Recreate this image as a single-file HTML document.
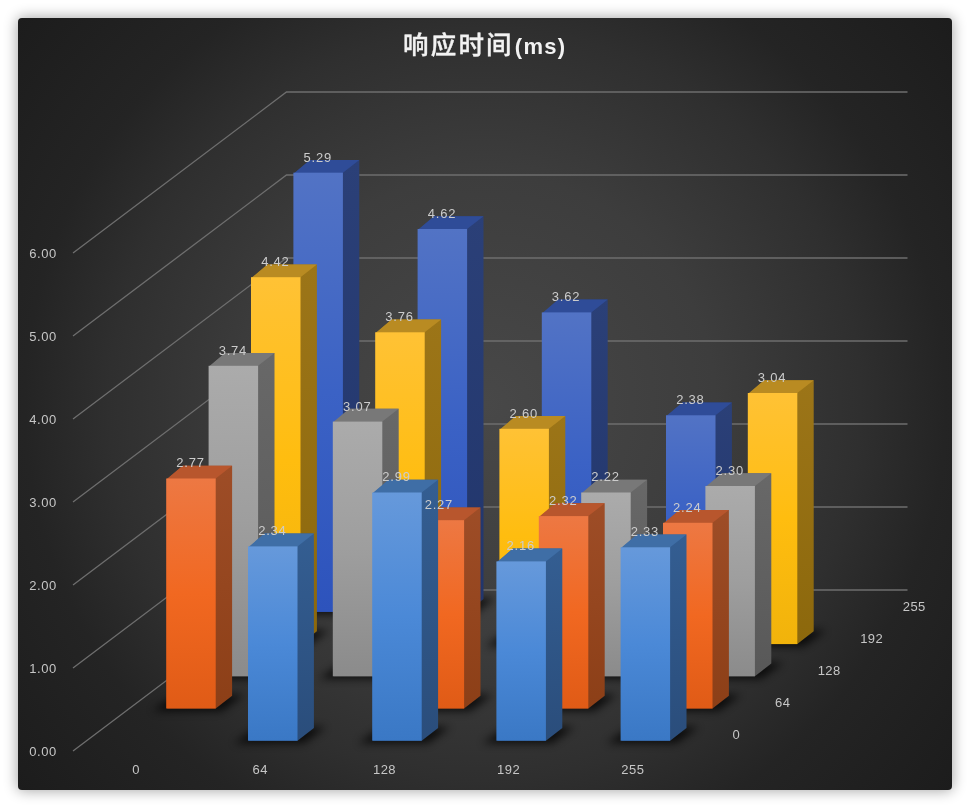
<!DOCTYPE html>
<html lang="zh"><head><meta charset="utf-8"><title>响应时间(ms)</title>
<style>
html,body{margin:0;padding:0;background:#fff;}
body{width:970px;height:808px;position:relative;overflow:hidden;font-family:"Liberation Sans","Noto Sans CJK SC",sans-serif;}
svg text{letter-spacing:0.8px;font-family:"Liberation Sans","Noto Sans CJK SC",sans-serif;font-size:13px;fill:#cccccc;text-anchor:middle;}
.t{position:absolute;left:403px;top:28px;color:#f2f2f2;line-height:34px;white-space:nowrap;}
.t .c{font-family:"Liberation Sans","Noto Sans CJK SC",sans-serif;font-weight:500;font-size:25.5px;letter-spacing:2.2px;-webkit-text-stroke:0.35px #f2f2f2;}
.t .e{font-family:"Liberation Sans","Noto Sans CJK SC",sans-serif;font-weight:bold;font-size:22px;letter-spacing:1.3px;margin-left:1px;}
.l.d{transform:translate(0,-50%);letter-spacing:0.4px;}
.l{position:absolute;color:#c6c6c6;letter-spacing:0.5px;font-size:13px;line-height:16px;white-space:nowrap;transform:translate(-50%,-50%);}
</style></head><body>
<svg width="970" height="808" viewBox="0 0 970 808" style="position:absolute;left:0;top:0">
<defs>
<radialGradient id="bg" gradientUnits="userSpaceOnUse" cx="485" cy="404" r="606"><stop offset="0" stop-color="#484848"/><stop offset="0.38" stop-color="#3d3d3d"/><stop offset="0.62" stop-color="#2f2f2f"/><stop offset="0.76" stop-color="#242424"/><stop offset="1" stop-color="#1c1c1c"/></radialGradient>
<linearGradient id="f0" x1="0" y1="0" x2="0" y2="1"><stop offset="0" stop-color="#6699db"/><stop offset="0.5" stop-color="#4b89d7"/><stop offset="1" stop-color="#3a78c5"/></linearGradient>
<linearGradient id="s0" x1="0" y1="0" x2="0" y2="1"><stop offset="0" stop-color="#345e92"/><stop offset="1" stop-color="#2a4d7b"/></linearGradient>
<linearGradient id="f1" x1="0" y1="0" x2="0" y2="1"><stop offset="0" stop-color="#ed7843"/><stop offset="0.5" stop-color="#f16821"/><stop offset="1" stop-color="#e05b16"/></linearGradient>
<linearGradient id="s1" x1="0" y1="0" x2="0" y2="1"><stop offset="0" stop-color="#9e4d27"/><stop offset="1" stop-color="#8c3f17"/></linearGradient>
<linearGradient id="f2" x1="0" y1="0" x2="0" y2="1"><stop offset="0" stop-color="#ababab"/><stop offset="0.5" stop-color="#9e9e9e"/><stop offset="1" stop-color="#8b8b8b"/></linearGradient>
<linearGradient id="s2" x1="0" y1="0" x2="0" y2="1"><stop offset="0" stop-color="#686868"/><stop offset="1" stop-color="#585858"/></linearGradient>
<linearGradient id="f3" x1="0" y1="0" x2="0" y2="1"><stop offset="0" stop-color="#ffc235"/><stop offset="0.5" stop-color="#ffbd0f"/><stop offset="1" stop-color="#f1b30b"/></linearGradient>
<linearGradient id="s3" x1="0" y1="0" x2="0" y2="1"><stop offset="0" stop-color="#9c7518"/><stop offset="1" stop-color="#8c680c"/></linearGradient>
<linearGradient id="f4" x1="0" y1="0" x2="0" y2="1"><stop offset="0" stop-color="#5273c5"/><stop offset="0.5" stop-color="#3b62c5"/><stop offset="1" stop-color="#2d53bc"/></linearGradient>
<linearGradient id="s4" x1="0" y1="0" x2="0" y2="1"><stop offset="0" stop-color="#2b4078"/><stop offset="1" stop-color="#21356b"/></linearGradient>
<filter id="sh" x="-50%" y="-50%" width="200%" height="200%"><feGaussianBlur stdDeviation="4"/></filter>
<filter id="psh" x="-10%" y="-10%" width="120%" height="120%"><feGaussianBlur stdDeviation="7"/></filter>
</defs>
<rect x="17" y="17" width="936" height="774" rx="6" fill="#000" opacity="0.34" filter="url(#psh)"/>
<rect x="18" y="18" width="934" height="772" rx="4" fill="url(#bg)"/>
<path d="M73.0 751.0L286.5 590.0L907.5 590.0M73.0 668.0L286.5 507.0L907.5 507.0M73.0 585.0L286.5 424.0L907.5 424.0M73.0 502.0L286.5 341.0L907.5 341.0M73.0 419.0L286.5 258.0L907.5 258.0M73.0 336.0L286.5 175.0L907.5 175.0M73.0 253.0L286.5 92.0L907.5 92.0" fill="none" stroke="#6e6e6e" stroke-width="1.3"/>
<path d="M279.4 614.4L348.9 614.4L371.3 598.1L303.8 598.1ZM403.6 614.4L473.1 614.4L495.5 598.1L428.0 598.1ZM527.8 614.4L597.3 614.4L619.7 598.1L552.2 598.1ZM652.0 614.4L721.5 614.4L743.9 598.1L676.4 598.1ZM237.0 646.6L306.5 646.6L328.9 630.3L261.4 630.3ZM361.2 646.6L430.7 646.6L453.1 630.3L385.6 630.3ZM485.4 646.6L554.9 646.6L577.3 630.3L509.8 630.3ZM733.8 646.6L803.3 646.6L825.7 630.3L758.2 630.3ZM194.6 678.8L264.1 678.8L286.5 662.5L219.0 662.5ZM318.8 678.8L388.3 678.8L410.7 662.5L343.2 662.5ZM567.2 678.8L636.7 678.8L659.1 662.5L591.6 662.5ZM691.4 678.8L760.9 678.8L783.3 662.5L715.8 662.5ZM152.2 711.0L221.7 711.0L244.1 694.7L176.6 694.7ZM400.6 711.0L470.1 711.0L492.5 694.7L425.0 694.7ZM524.8 711.0L594.3 711.0L616.7 694.7L549.2 694.7ZM649.0 711.0L718.5 711.0L740.9 694.7L673.4 694.7ZM234.0 743.2L303.5 743.2L325.9 726.9L258.4 726.9ZM358.2 743.2L427.7 743.2L450.1 726.9L382.6 726.9ZM482.4 743.2L551.9 743.2L574.3 726.9L506.8 726.9ZM606.6 743.2L676.1 743.2L698.5 726.9L631.0 726.9Z" fill="#000" opacity="0.75" filter="url(#sh)"/>
<path d="M294.4 611.9L342.9 611.9L359.3 599.1L359.3 159.9L309.8 159.9L294.4 173.7Z" fill="url(#s4)"/>
<path d="M293.4 173.7L342.9 173.7L342.9 172.7L359.3 159.9L309.8 159.9Z" fill="#2f4c98"/>
<rect x="293.4" y="172.7" width="49.5" height="439.2" fill="url(#f4)"/>
<path d="M418.6 611.9L467.1 611.9L483.5 599.1L483.5 216.2L434.0 216.2L418.6 230.0Z" fill="url(#s4)"/>
<path d="M417.6 230.0L467.1 230.0L467.1 229.0L483.5 216.2L434.0 216.2Z" fill="#2f4c98"/>
<rect x="417.6" y="229.0" width="49.5" height="382.9" fill="url(#f4)"/>
<path d="M542.8 611.9L591.3 611.9L607.7 599.1L607.7 299.6L558.2 299.6L542.8 313.4Z" fill="url(#s4)"/>
<path d="M541.8 313.4L591.3 313.4L591.3 312.4L607.7 299.6L558.2 299.6Z" fill="#2f4c98"/>
<rect x="541.8" y="312.4" width="49.5" height="299.5" fill="url(#f4)"/>
<path d="M667.0 611.9L715.5 611.9L731.9 599.1L731.9 402.5L682.4 402.5L667.0 416.3Z" fill="url(#s4)"/>
<path d="M666.0 416.3L715.5 416.3L715.5 415.3L731.9 402.5L682.4 402.5Z" fill="#2f4c98"/>
<rect x="666.0" y="415.3" width="49.5" height="196.6" fill="url(#f4)"/>
<path d="M252.0 644.1L300.5 644.1L316.9 631.3L316.9 264.4L267.4 264.4L252.0 278.2Z" fill="url(#s3)"/>
<path d="M251.0 278.2L300.5 278.2L300.5 277.2L316.9 264.4L267.4 264.4Z" fill="#b98b22"/>
<rect x="251.0" y="277.2" width="49.5" height="366.9" fill="url(#f3)"/>
<path d="M376.2 644.1L424.7 644.1L441.1 631.3L441.1 319.5L391.6 319.5L376.2 333.3Z" fill="url(#s3)"/>
<path d="M375.2 333.3L424.7 333.3L424.7 332.3L441.1 319.5L391.6 319.5Z" fill="#b98b22"/>
<rect x="375.2" y="332.3" width="49.5" height="311.8" fill="url(#f3)"/>
<path d="M500.4 644.1L548.9 644.1L565.3 631.3L565.3 416.0L515.8 416.0L500.4 429.8Z" fill="url(#s3)"/>
<path d="M499.4 429.8L548.9 429.8L548.9 428.8L565.3 416.0L515.8 416.0Z" fill="#b98b22"/>
<rect x="499.4" y="428.8" width="49.5" height="215.3" fill="url(#f3)"/>
<path d="M748.8 644.1L797.3 644.1L813.7 631.3L813.7 380.2L764.2 380.2L748.8 394.0Z" fill="url(#s3)"/>
<path d="M747.8 394.0L797.3 394.0L797.3 393.0L813.7 380.2L764.2 380.2Z" fill="#b98b22"/>
<rect x="747.8" y="393.0" width="49.5" height="251.1" fill="url(#f3)"/>
<path d="M209.6 676.3L258.1 676.3L274.5 663.5L274.5 353.0L225.0 353.0L209.6 366.8Z" fill="url(#s2)"/>
<path d="M208.6 366.8L258.1 366.8L258.1 365.8L274.5 353.0L225.0 353.0Z" fill="#787878"/>
<rect x="208.6" y="365.8" width="49.5" height="310.5" fill="url(#f2)"/>
<path d="M333.8 676.3L382.3 676.3L398.7 663.5L398.7 408.8L349.2 408.8L333.8 422.6Z" fill="url(#s2)"/>
<path d="M332.8 422.6L382.3 422.6L382.3 421.6L398.7 408.8L349.2 408.8Z" fill="#787878"/>
<rect x="332.8" y="421.6" width="49.5" height="254.7" fill="url(#f2)"/>
<path d="M582.2 676.3L630.7 676.3L647.1 663.5L647.1 479.7L597.6 479.7L582.2 493.5Z" fill="url(#s2)"/>
<path d="M581.2 493.5L630.7 493.5L630.7 492.5L647.1 479.7L597.6 479.7Z" fill="#787878"/>
<rect x="581.2" y="492.5" width="49.5" height="183.8" fill="url(#f2)"/>
<path d="M706.4 676.3L754.9 676.3L771.3 663.5L771.3 473.2L721.8 473.2L706.4 487.0Z" fill="url(#s2)"/>
<path d="M705.4 487.0L754.9 487.0L754.9 486.0L771.3 473.2L721.8 473.2Z" fill="#787878"/>
<rect x="705.4" y="486.0" width="49.5" height="190.3" fill="url(#f2)"/>
<path d="M167.2 708.5L215.7 708.5L232.1 695.7L232.1 465.7L182.6 465.7L167.2 479.5Z" fill="url(#s1)"/>
<path d="M166.2 479.5L215.7 479.5L215.7 478.5L232.1 465.7L182.6 465.7Z" fill="#b8562d"/>
<rect x="166.2" y="478.5" width="49.5" height="230.0" fill="url(#f1)"/>
<path d="M415.6 708.5L464.1 708.5L480.5 695.7L480.5 507.4L431.0 507.4L415.6 521.2Z" fill="url(#s1)"/>
<path d="M414.6 521.2L464.1 521.2L464.1 520.2L480.5 507.4L431.0 507.4Z" fill="#b8562d"/>
<rect x="414.6" y="520.2" width="49.5" height="188.3" fill="url(#f1)"/>
<path d="M539.8 708.5L588.3 708.5L604.7 695.7L604.7 503.3L555.2 503.3L539.8 517.1Z" fill="url(#s1)"/>
<path d="M538.8 517.1L588.3 517.1L588.3 516.1L604.7 503.3L555.2 503.3Z" fill="#b8562d"/>
<rect x="538.8" y="516.1" width="49.5" height="192.4" fill="url(#f1)"/>
<path d="M664.0 708.5L712.5 708.5L728.9 695.7L728.9 510.0L679.4 510.0L664.0 523.8Z" fill="url(#s1)"/>
<path d="M663.0 523.8L712.5 523.8L712.5 522.8L728.9 510.0L679.4 510.0Z" fill="#b8562d"/>
<rect x="663.0" y="522.8" width="49.5" height="185.7" fill="url(#f1)"/>
<path d="M249.0 740.7L297.5 740.7L313.9 727.9L313.9 533.6L264.4 533.6L249.0 547.4Z" fill="url(#s0)"/>
<path d="M248.0 547.4L297.5 547.4L297.5 546.4L313.9 533.6L264.4 533.6Z" fill="#3f6ea6"/>
<rect x="248.0" y="546.4" width="49.5" height="194.3" fill="url(#f0)"/>
<path d="M373.2 740.7L421.7 740.7L438.1 727.9L438.1 479.7L388.6 479.7L373.2 493.5Z" fill="url(#s0)"/>
<path d="M372.2 493.5L421.7 493.5L421.7 492.5L438.1 479.7L388.6 479.7Z" fill="#3f6ea6"/>
<rect x="372.2" y="492.5" width="49.5" height="248.2" fill="url(#f0)"/>
<path d="M497.4 740.7L545.9 740.7L562.3 727.9L562.3 548.6L512.8 548.6L497.4 562.4Z" fill="url(#s0)"/>
<path d="M496.4 562.4L545.9 562.4L545.9 561.4L562.3 548.6L512.8 548.6Z" fill="#3f6ea6"/>
<rect x="496.4" y="561.4" width="49.5" height="179.3" fill="url(#f0)"/>
<path d="M621.6 740.7L670.1 740.7L686.5 727.9L686.5 534.5L637.0 534.5L621.6 548.3Z" fill="url(#s0)"/>
<path d="M620.6 548.3L670.1 548.3L670.1 547.3L686.5 534.5L637.0 534.5Z" fill="#3f6ea6"/>
<rect x="620.6" y="547.3" width="49.5" height="193.4" fill="url(#f0)"/>
<text x="317.8" y="161.6">5.29</text><text x="442.0" y="217.9">4.62</text><text x="566.1" y="301.3">3.62</text><text x="690.4" y="404.2">2.38</text><text x="275.4" y="266.1">4.42</text><text x="399.6" y="321.2">3.76</text><text x="523.8" y="417.7">2.60</text><text x="772.1" y="381.9">3.04</text><text x="232.9" y="354.7">3.74</text><text x="357.2" y="410.5">3.07</text><text x="605.6" y="481.4">2.22</text><text x="729.7" y="474.9">2.30</text><text x="190.5" y="467.4">2.77</text><text x="438.9" y="509.1">2.27</text><text x="563.2" y="505.0">2.32</text><text x="687.3" y="511.7">2.24</text><text x="272.4" y="535.3">2.34</text><text x="396.6" y="481.4">2.99</text><text x="520.8" y="550.3">2.16</text><text x="644.9" y="536.2">2.33</text>
</svg>
<div class="t"><span class="c">响应时间</span><span class="e">(ms)</span></div>
<div class="l" style="left:43px;top:751.7px">0.00</div>
<div class="l" style="left:43px;top:668.7px">1.00</div>
<div class="l" style="left:43px;top:585.7px">2.00</div>
<div class="l" style="left:43px;top:502.7px">3.00</div>
<div class="l" style="left:43px;top:419.7px">4.00</div>
<div class="l" style="left:43px;top:336.7px">5.00</div>
<div class="l" style="left:43px;top:253.7px">6.00</div>
<div class="l" style="left:136.1px;top:769.6px">0</div>
<div class="l" style="left:260.3px;top:769.6px">64</div>
<div class="l" style="left:384.5px;top:769.6px">128</div>
<div class="l" style="left:508.7px;top:769.6px">192</div>
<div class="l" style="left:632.9px;top:769.6px">255</div>
<div class="l d" style="left:732.6px;top:735.3px">0</div>
<div class="l d" style="left:775.1px;top:703.1px">64</div>
<div class="l d" style="left:817.7px;top:670.9px">128</div>
<div class="l d" style="left:860.2px;top:638.7px">192</div>
<div class="l d" style="left:902.8px;top:606.5px">255</div>
</body></html>
